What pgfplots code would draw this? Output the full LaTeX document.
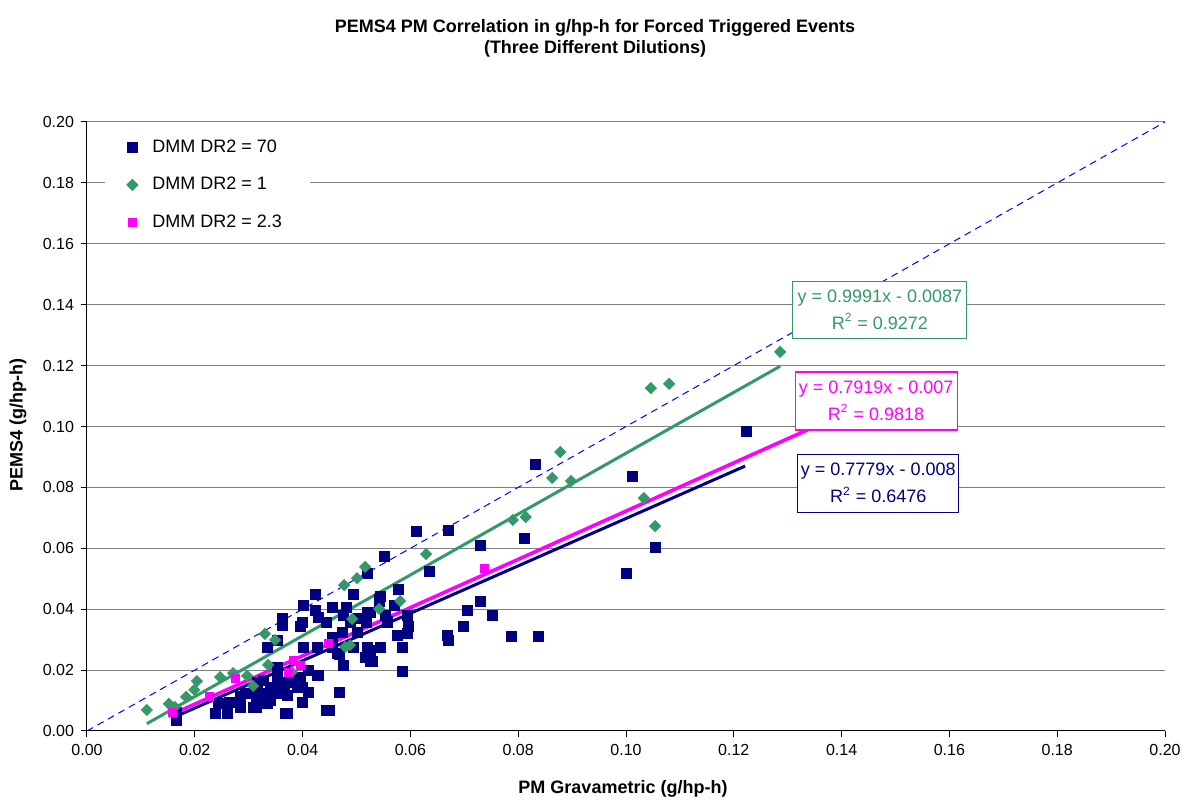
\documentclass[border=0pt]{standalone}
\usepackage{fontspec}
\setmainfont{Liberation Sans}
\usepackage{pgfplots}
\usepackage{pgfplotstable}
\pgfplotsset{compat=1.18}
\definecolor{navyc}{HTML}{000080}
\definecolor{seag}{HTML}{339966}
\definecolor{mag}{HTML}{FF00FF}
\definecolor{gridc}{HTML}{808080}
\definecolor{diagc}{HTML}{0000FF}

\pgfplotstableread{
x y
0.0165 0.0036
0.0165 0.0062
0.0239 0.0059
0.0260 0.0059
0.0243 0.0092
0.0265 0.0095
0.0284 0.0112
0.0293 0.0125
0.0315 0.0079
0.0334 0.0092
0.0371 0.0059
0.0399 0.0095
0.0315 0.0128
0.0340 0.0144
0.0327 0.0167
0.0353 0.0174
0.0364 0.0144
0.0371 0.0118
0.0345 0.0125
0.0353 0.0210
0.0334 0.0276
0.0354 0.0299
0.0362 0.0371
0.0362 0.0348
0.0401 0.0414
0.0423 0.0447
0.0423 0.0397
0.0399 0.0358
0.0395 0.0342
0.0401 0.0273
0.0427 0.0276
0.0429 0.0184
0.0410 0.0200
0.0395 0.0177
0.0391 0.0144
0.0410 0.0128
0.0445 0.0069
0.0612 0.0654
0.0670 0.0660
0.0551 0.0575
0.0521 0.0519
0.0636 0.0525
0.0494 0.0447
0.0544 0.0443
0.0577 0.0466
0.0456 0.0407
0.0482 0.0407
0.0542 0.0424
0.0571 0.0414
0.0429 0.0374
0.0475 0.0381
0.0503 0.0371
0.0521 0.0388
0.0553 0.0381
0.0594 0.0381
0.0445 0.0355
0.0488 0.0358
0.0519 0.0355
0.0558 0.0358
0.0596 0.0342
0.0455 0.0309
0.0473 0.0325
0.0501 0.0325
0.0575 0.0315
0.0594 0.0322
0.0456 0.0276
0.0494 0.0273
0.0521 0.0273
0.0544 0.0276
0.0586 0.0273
0.0464 0.0256
0.0469 0.0250
0.0516 0.0243
0.0525 0.0227
0.0475 0.0217
0.0427 0.0184
0.0586 0.0197
0.0399 0.0144
0.0469 0.0128
0.0449 0.0069
0.0668 0.0315
0.0670 0.0299
0.0698 0.0342
0.0831 0.0874
0.1011 0.0837
0.0729 0.0608
0.0811 0.0631
0.1000 0.0516
0.0729 0.0424
0.0705 0.0397
0.0753 0.0381
0.0788 0.0312
0.0837 0.0312
0.1223 0.0985
0.1054 0.0604
0.0369 0.0059
0.0284 0.0079
0.0308 0.0079
0.0325 0.0092
0.0340 0.0102
0.0315 0.0112
0.0334 0.0125
0.0353 0.0135
0.0367 0.0125
0.0371 0.0158
0.0353 0.0161
0.0380 0.0177
0.0317 0.0158
0.0525 0.0391
0.0557 0.0361
0.0545 0.0276
0.0525 0.0266
0.0529 0.0227
0.0542 0.0433
}\navydata

\pgfplotstableread{
x y
0.0111 0.0069
0.0152 0.0089
0.0163 0.0079
0.0184 0.0112
0.0199 0.0135
0.0204 0.0164
0.0247 0.0177
0.0271 0.0190
0.0297 0.0181
0.0308 0.0148
0.0330 0.0319
0.0336 0.0217
0.0349 0.0299
0.0380 0.0194
0.0477 0.0479
0.0479 0.0276
0.0488 0.0282
0.0492 0.0368
0.0501 0.0502
0.0516 0.0539
0.0542 0.0401
0.0581 0.0427
0.0629 0.0581
0.0790 0.0693
0.0814 0.0703
0.0863 0.0831
0.0878 0.0916
0.0898 0.0821
0.1033 0.0765
0.1046 0.1126
0.1054 0.0673
0.1080 0.1140
0.1286 0.1245
}\greendata

\pgfplotstableread{
x y
0.0158 0.0062
0.0228 0.0112
0.0275 0.0174
0.0373 0.0194
0.0382 0.0233
0.0395 0.0217
0.0447 0.0289
0.0738 0.0535
}\magdata

\begin{document}
\begin{tikzpicture}
\begin{axis}[
  at={(0,0)}, anchor=south west,
  scale only axis, width=539pt, height=304.5pt,
  xmin=0, xmax=0.2, ymin=0, ymax=0.2,
  xtick={0,0.02,0.04,0.06,0.08,0.1,0.12,0.14,0.16,0.18,0.2},
  ytick={0,0.02,0.04,0.06,0.08,0.1,0.12,0.14,0.16,0.18,0.2},
  xticklabels={0.00,0.02,0.04,0.06,0.08,0.10,0.12,0.14,0.16,0.18,0.20},
  yticklabels={0.00,0.02,0.04,0.06,0.08,0.10,0.12,0.14,0.16,0.18,0.20},
  tick label style={font=\fontsize{8}{9}\selectfont},
  axis lines*=left,
  axis line style={black, line width=0.5pt},
  ymajorgrids, grid style={gridc, line width=0.5pt},
  tick align=outside, major tick length=3pt,
  tick style={black, line width=0.5pt},
  legend cell align=left,
  legend image code/.code={\path[draw=none,fill=none] (0pt,0pt) -- (18pt,0pt); \draw[#1] plot coordinates {(10pt,0pt)};},
  legend style={at={(rel axis cs:0.0176,0.985)}, anchor=north west,
    draw=none, fill=none, font=\fontsize{9}{10}\selectfont,
    row sep=7pt},
]
\addplot[diagc, line width=0.5pt, dash pattern=on 3.5pt off 2.5pt, forget plot]
  coordinates {(0,0) (0.2,0.2)};
\fill[white] (axis cs:0.0033,0.1620) rectangle (axis cs:0.0414,0.1975);
\addplot[only marks, mark=square*, mark size=2.5pt, color=navyc] table {\navydata};
\addlegendentry{DMM DR2 = 70}
\addplot[only marks, mark=square*, mark size=1.95pt, mark options={rotate=45}, color=seag] table {\greendata};
\addlegendentry{DMM DR2 = 1}
\addplot[only marks, mark=square*, mark size=2pt, color=mag] table {\magdata};
\addlegendentry{DMM DR2 = 2.3}
\addplot[navyc, line width=1.5pt, forget plot] coordinates {(0.0165,0.0048) (0.1221,0.0870)};
\addplot[seag, line width=1.5pt, forget plot] coordinates {(0.0111,0.0024) (0.1286,0.1198)};
\addplot[mag, line width=1.8pt, forget plot] coordinates {(0.0158,0.0055) (0.1400,0.1039)};
\node[draw=seag, line width=0.6pt, fill=white, text=seag, align=center,
  font=\fontsize{9}{13.5}\selectfont, minimum width=87pt, minimum height=28.5pt, inner sep=1pt]
  at (axis cs:0.1471,0.1383) {y = 0.9991x - 0.0087\\R\textsuperscript{2} = 0.9272};
\node[draw=mag, line width=0.6pt, fill=white, text=mag, align=center,
  font=\fontsize{9}{13.5}\selectfont, minimum width=81pt, minimum height=29pt, inner sep=1pt]
  at (axis cs:0.1464,0.1084) {y = 0.7919x - 0.007\\R\textsuperscript{2} = 0.9818};
\node[draw=navyc, line width=0.6pt, fill=white, text=navyc, align=center,
  font=\fontsize{9}{13.5}\selectfont, minimum width=80.5pt, minimum height=29pt, inner sep=1pt]
  at (axis cs:0.1468,0.0814) {y = 0.7779x - 0.008\\R\textsuperscript{2} = 0.6476};
\end{axis}
\node[align=center, font=\bfseries\fontsize{9}{10.5}\selectfont] at (254pt,346.5pt)
  {PEMS4 PM Correlation in g/hp-h for Forced Triggered Events\\(Three Different Dilutions)};
\node[font=\bfseries\fontsize{9}{10}\selectfont] at (268pt,-29pt) {PM Gravametric (g/hp-h)};
\node[font=\bfseries\fontsize{9}{10}\selectfont, rotate=90] at (-34.5pt,153pt) {PEMS4 (g/hp-h)};
\pgfresetboundingbox
\path[use as bounding box] (-43.5pt,-35pt) rectangle (549.5pt,365.5pt);
\end{tikzpicture}
\end{document}
